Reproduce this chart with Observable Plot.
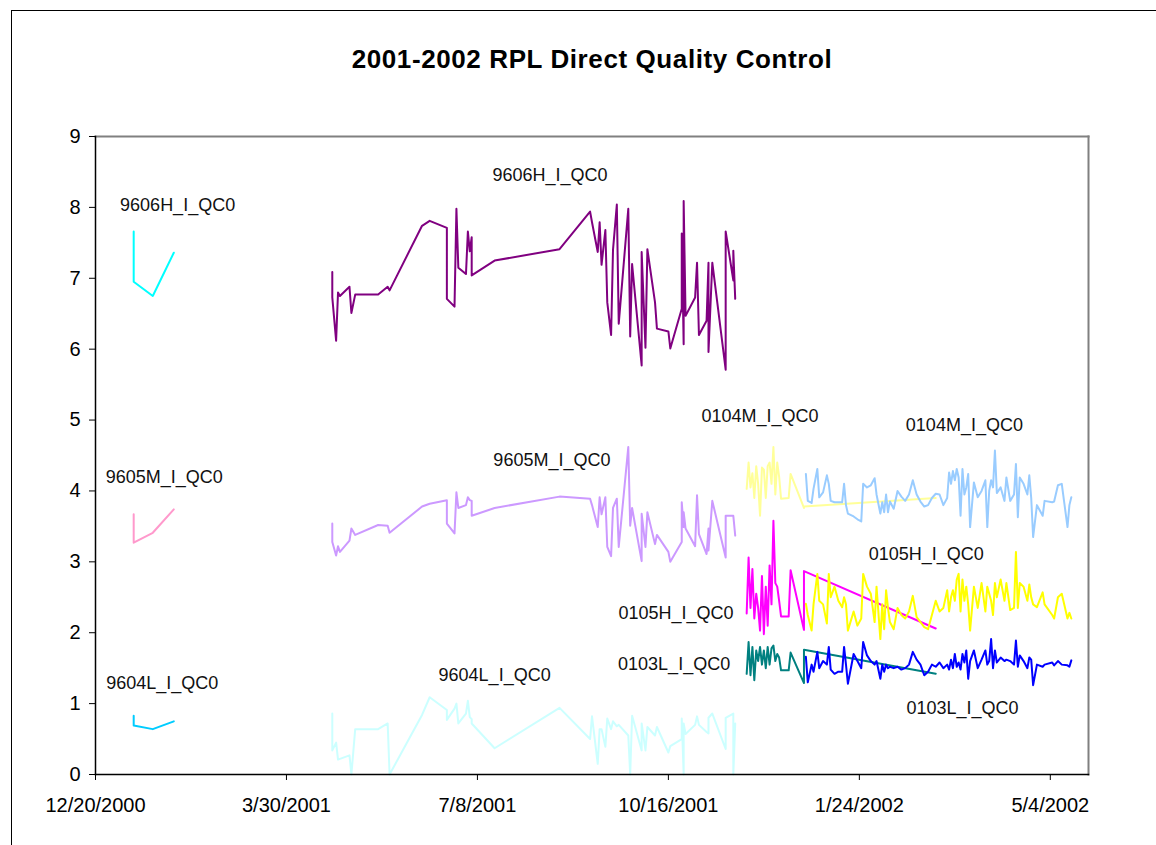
<!DOCTYPE html>
<html><head><meta charset="utf-8">
<script src="https://cdn.jsdelivr.net/npm/d3@7"></script>
<script src="https://cdn.jsdelivr.net/npm/@observablehq/plot@0.6"></script>
<style>
body{margin:0;background:#fff;}
#wrap{position:relative;width:1156px;height:845px;overflow:hidden;background:#fff;font-family:Arial,"Liberation Sans",sans-serif;}
#border{position:absolute;left:11px;top:10px;width:2000px;height:2000px;border-left:1.5px solid #000;border-top:1.5px solid #000;}
#title{position:absolute;left:0;width:1184px;top:44px;text-align:center;font-weight:bold;font-size:26px;letter-spacing:0.6px;color:#000;}
#chart{position:absolute;left:0;top:0;}
</style></head><body>
<div id="wrap"><div id="border"></div><div id="chart"></div><div id="title">2001-2002 RPL Direct Quality Control</div></div>
<script>
// ---- data ----
const earlyDates = ["2001-01-09","2001-01-09","2001-01-19","2001-01-30"];
const h9606Early = [7.66, 6.95, 6.75, 7.36];
const m9605Early = [3.67, 3.27, 3.41, 3.74];
const l9604Early = [0.83, 0.69, 0.64, 0.75];

const midDates = ["2001-04-23","2001-04-23","2001-04-25","2001-04-26","2001-04-27","2001-05-02","2001-05-03","2001-05-05","2001-05-17","2001-05-22","2001-05-23","2001-06-09","2001-06-13","2001-06-22","2001-06-22","2001-06-26","2001-06-27","2001-06-28","2001-07-02","2001-07-03","2001-07-04","2001-07-05","2001-07-05","2001-07-17","2001-08-20","2001-09-05","2001-09-06","2001-09-09","2001-09-10","2001-09-11","2001-09-13","2001-09-14","2001-09-16","2001-09-17","2001-09-19","2001-09-20","2001-09-25","2001-09-26","2001-09-27","2001-10-02","2001-10-02","2001-10-04","2001-10-05","2001-10-09","2001-10-10","2001-10-16","2001-10-17","2001-10-23","2001-10-23","2001-10-24","2001-10-24","2001-10-25","2001-10-30","2001-10-31","2001-11-01","2001-11-05","2001-11-06","2001-11-06","2001-11-08","2001-11-15","2001-11-15","2001-11-19","2001-11-19","2001-11-20"];
const h9606Mid = [7.09,6.73,6.12,6.80,6.75,6.88,6.51,6.77,6.77,6.88,6.83,7.74,7.81,7.71,6.71,6.60,7.98,7.15,7.06,7.66,7.38,7.58,7.04,7.25,7.41,7.94,7.79,7.37,7.79,7.19,7.68,6.66,6.20,7.40,8.04,6.36,7.98,6.18,7.20,5.77,7.37,6.02,7.41,6.66,6.29,6.25,6.01,6.57,7.63,6.07,8.09,6.47,6.73,7.22,6.20,6.40,7.22,5.96,7.22,5.71,7.66,6.97,7.39,6.71];
const m9605Mid = [3.54,3.28,3.09,3.22,3.14,3.30,3.47,3.38,3.52,3.51,3.41,3.78,3.82,3.87,3.54,3.40,3.98,3.76,3.80,3.91,3.87,3.86,3.65,3.76,3.92,3.89,3.80,3.49,3.91,3.67,3.91,3.21,3.08,3.76,3.89,3.21,4.62,3.51,3.76,3.01,3.68,3.21,3.70,3.25,3.38,3.14,3.00,3.28,3.84,3.49,3.70,3.47,3.22,3.94,3.39,3.11,3.47,3.16,3.86,3.06,3.65,3.65,3.65,3.37];
const l9604Mid = [0.86,0.34,0.45,0.21,0.22,0.27,0,0.64,0.64,0.72,0,0.84,1.09,0.91,0.77,0.93,1.00,0.72,0.86,1.04,0.81,0.78,0.72,0.37,0.94,0.50,0.82,0.15,0.64,0.64,0.39,0.79,0.64,0.75,0.68,0.70,0.55,0,0.83,0.34,0.72,0.34,0.67,0.55,0.67,0.31,0.40,0.50,0.79,0,0.72,0.57,0.70,0.82,0.70,0.60,0.58,0.80,0.86,0.36,0.80,0.86,0,0.72];

const oldRightDates = ["2001-11-26","2001-11-27","2001-11-28","2001-11-29","2001-11-30","2001-12-01","2001-12-02","2001-12-03","2001-12-04","2001-12-05","2001-12-06","2001-12-07","2001-12-08","2001-12-09","2001-12-10","2001-12-11","2001-12-12","2001-12-13","2001-12-14","2001-12-18","2001-12-19","2001-12-26","2001-12-26","2002-03-05"];
const m0104Old = [4.03,4.40,4.05,4.25,3.90,4.35,4.10,3.65,4.33,4.30,3.90,4.35,4.40,4.10,4.62,3.95,4.40,4.20,3.89,3.90,4.24,3.76,3.78,3.90];
const h0105Old = [2.27,3.06,2.35,2.90,2.20,2.55,2.35,2.03,2.80,1.98,2.65,2.10,2.95,2.40,3.58,2.70,2.65,2.45,2.23,2.23,2.88,2.04,2.87,2.06];
const l0103Old = [1.42,1.87,1.40,1.80,1.33,1.75,1.60,1.80,1.55,1.75,1.50,1.80,1.55,1.78,1.82,1.60,1.70,1.65,1.47,1.47,1.72,1.29,1.76,1.42];

const newDates = ["2001-12-27","2001-12-28","2001-12-30","2001-12-31",
"2002-01-02","2002-01-03","2002-01-05","2002-01-07","2002-01-08","2002-01-09","2002-01-11","2002-01-13","2002-01-15","2002-01-16","2002-01-17","2002-01-18","2002-01-21","2002-01-23","2002-01-25","2002-01-26","2002-01-28","2002-01-30",
"2002-02-01","2002-02-02","2002-02-04","2002-02-05","2002-02-06","2002-02-07","2002-02-08","2002-02-09","2002-02-11","2002-02-13","2002-02-15","2002-02-17","2002-02-19","2002-02-21","2002-02-23","2002-02-25","2002-02-27",
"2002-03-01","2002-03-03","2002-03-05","2002-03-07","2002-03-09","2002-03-11","2002-03-12","2002-03-13","2002-03-14","2002-03-15","2002-03-16","2002-03-17","2002-03-18","2002-03-19","2002-03-20","2002-03-21","2002-03-22","2002-03-23","2002-03-25","2002-03-27","2002-03-29","2002-03-31",
"2002-04-01","2002-04-02","2002-04-03","2002-04-04","2002-04-05","2002-04-06","2002-04-08","2002-04-10","2002-04-11","2002-04-13","2002-04-15","2002-04-16","2002-04-17","2002-04-18","2002-04-20","2002-04-22","2002-04-23","2002-04-24","2002-04-25","2002-04-27","2002-04-30",
"2002-05-01","2002-05-05","2002-05-06","2002-05-08","2002-05-10","2002-05-13","2002-05-14","2002-05-15"];
const m0104New = [4.24,3.86,3.83,4.03,
4.31,3.91,3.98,4.22,4.10,3.86,3.84,3.84,3.84,4.10,3.80,3.68,3.64,3.60,3.57,4.10,4.05,4.08,
4.18,3.95,3.68,3.84,3.70,3.95,3.70,3.85,3.75,4.00,3.92,3.86,3.95,4.15,3.95,3.85,3.78,
3.80,3.90,3.96,3.95,3.80,3.90,4.26,4.10,4.28,4.15,4.31,4.19,3.65,4.31,3.95,4.05,4.24,3.49,4.12,3.91,4.00,4.15,
3.49,4.00,4.15,4.05,4.57,3.97,4.05,3.86,4.19,3.86,3.95,4.38,3.63,4.19,4.10,3.95,4.22,3.90,3.35,3.80,3.65,
3.86,3.84,3.85,4.08,4.10,3.49,3.80,3.91];
const h0105New = [2.41,2.25,2.03,2.40,
2.83,2.45,2.40,2.13,2.83,2.50,2.65,2.45,2.36,2.50,2.40,2.03,2.30,2.10,2.20,2.83,2.65,2.55,
2.15,2.65,1.91,2.40,2.05,2.60,2.35,2.15,2.05,2.35,2.25,2.20,2.30,2.52,2.22,2.15,2.08,
2.05,2.25,2.45,2.30,2.35,2.60,2.30,2.50,2.60,2.45,2.75,2.83,2.30,2.75,2.45,2.65,2.40,2.03,2.65,2.35,2.70,2.30,
2.65,2.55,2.45,2.25,2.70,2.50,2.75,2.45,2.70,2.32,2.35,3.14,2.35,2.70,2.65,2.45,2.68,2.50,2.40,2.36,2.57,
2.40,2.25,2.20,2.50,2.55,2.20,2.28,2.20];
const l0103New = [1.66,1.30,1.55,1.45,
1.73,1.50,1.60,1.55,1.80,1.48,1.42,1.45,1.45,1.80,1.55,1.28,1.70,1.60,1.50,1.87,1.68,1.60,
1.55,1.60,1.35,1.55,1.45,1.55,1.50,1.52,1.50,1.52,1.48,1.50,1.55,1.73,1.62,1.55,1.40,
1.45,1.55,1.52,1.58,1.50,1.55,1.48,1.62,1.50,1.70,1.52,1.58,1.48,1.70,1.58,1.75,1.35,1.60,1.75,1.50,1.62,1.75,
1.55,1.60,1.91,1.50,1.75,1.58,1.65,1.60,1.62,1.60,1.55,1.89,1.52,1.68,1.60,1.50,1.65,1.62,1.26,1.55,1.52,
1.55,1.58,1.54,1.60,1.55,1.54,1.52,1.61];

const labelText = ["9606H_I_QC0","9605M_I_QC0","9604L_I_QC0","9606H_I_QC0","9605M_I_QC0","9604L_I_QC0","0104M_I_QC0","0104M_I_QC0","0105H_I_QC0","0105H_I_QC0","0103L_I_QC0","0103L_I_QC0"];
const labelDates = ["2001-02-01","2001-01-25","2001-01-24","2001-08-15","2001-08-16","2001-07-17","2001-12-03","2002-03-20","2001-10-20","2002-02-28","2001-10-19","2002-03-19"];
const labelValues = [8.03,4.19,1.29,8.45,4.44,1.40,5.05,4.92,2.28,3.11,1.56,0.93];

const xDomain = ["2000-12-20","2002-05-24"];
const xTicks = ["2000-12-20","2001-03-30","2001-07-08","2001-10-16","2002-01-24","2002-05-04"];
const yTicks = [0,1,2,3,4,5,6,7,8,9];

// ---- build ----
const P = s => new Date(s + "T00:00:00Z");
const rows = (dates, vals) => dates.map((d, i) => ({date: P(d), value: vals[i]}));
const seriesList = [
  {data: rows(earlyDates, h9606Early), color: "#00FFFF"},
  {data: rows(earlyDates, m9605Early), color: "#FF99CC"},
  {data: rows(earlyDates, l9604Early), color: "#00CCFF"},
  {data: rows(midDates, l9604Mid), color: "#CCFFFF"},
  {data: rows(midDates, m9605Mid), color: "#CC99FF"},
  {data: rows(midDates, h9606Mid), color: "#800080"},
  {data: rows(oldRightDates, m0104Old), color: "#FFFF99"},
  {data: rows(oldRightDates, h0105Old), color: "#FF00FF"},
  {data: rows(oldRightDates, l0103Old), color: "#008080"},
  {data: rows(newDates, m0104New), color: "#99CCFF"},
  {data: rows(newDates, h0105New), color: "#FFFF00"},
  {data: rows(newDates, l0103New), color: "#0000FF"}
];
const labels = labelText.map((t, i) => ({text: t, date: P(labelDates[i]), value: labelValues[i]}));

const chart = Plot.plot({
  width: 1156, height: 845,
  marginLeft: 95, marginRight: 68, marginTop: 136, marginBottom: 71,
  style: {fontFamily: "Arial, 'Liberation Sans', sans-serif", fontSize: "20px", color: "#000", background: "transparent"},
  x: {type: "utc", domain: xDomain.map(P)},
  y: {domain: [yTicks[0], yTicks[yTicks.length - 1]]},
  marks: [
    Plot.frame({anchor: "top", stroke: "#808080", strokeWidth: 2}),
    Plot.frame({anchor: "right", stroke: "#808080", strokeWidth: 2}),
    ...seriesList.map(s => Plot.line(s.data, {x: "date", y: "value", stroke: s.color, strokeWidth: 2})),
    Plot.text(labels, {x: "date", y: "value", text: "text", fontSize: 18, fill: "#111"}),
    Plot.frame({anchor: "bottom", stroke: "#000", strokeWidth: 1.5}),
    Plot.frame({anchor: "left", stroke: "#000", strokeWidth: 1.5}),
    Plot.axisX({ticks: xTicks.map(P), tickFormat: d3.utcFormat("%-m/%-d/%Y"), tickSize: 6, tickPadding: 17, label: null, fontSize: 20, stroke: "#000"}),
    Plot.axisY({ticks: yTicks, tickSize: 6, tickPadding: 9, label: null, fontSize: 20, stroke: "#000"})
  ]
});
document.getElementById("chart").appendChild(chart);
</script>
</body></html>
